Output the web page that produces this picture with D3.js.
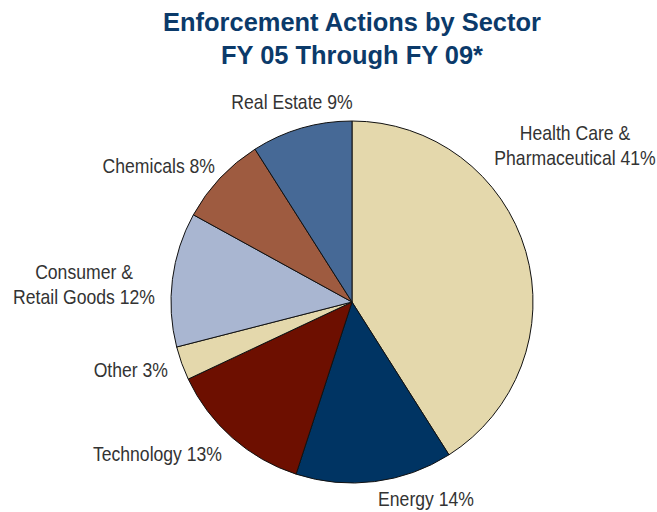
<!DOCTYPE html>
<html lang="en">
<head>
<meta charset="UTF-8">
<title>Enforcement Actions by Sector</title>
<script src="https://d3js.org/d3.v7.min.js"></script>
<style>
    body { margin: 0; background: #fff; }
    svg text { font-family: 'Liberation Sans', Arial, sans-serif; }
</style>
</head>
<body>
<div id="chart"></div>
<script>
    // Sectors, clockwise from 12 o'clock
    const sectors = ["Health Care & Pharmaceutical", "Energy", "Technology", "Other",
                     "Consumer & Retail Goods", "Chemicals", "Real Estate"];
    const shares = [41, 14, 13, 3, 12, 8, 9];
    const colors = ["#e4d8ac", "#003463", "#6d0f00", "#e4d8ac", "#a9b6d1", "#9e5b40", "#466996"];
    // label lines as printed
    const labelLines = [
        ["Health Care &", "Pharmaceutical 41%"],
        ["Energy 14%"],
        ["Technology 13%"],
        ["Other 3%"],
        ["Consumer &", "Retail Goods 12%"],
        ["Chemicals 8%"],
        ["Real Estate 9%"]
    ];

    const width = 657, height = 512;
    const cx = 352, cy = 302, radius = 181;

    const svg = d3.select("#chart").append("svg")
        .attr("width", width).attr("height", height);

    // title (the original uses a slightly condensed face)
    const title = svg.append("g")
        .attr("transform", `translate(352,0) scale(0.96,1)`)
        .append("text")
        .attr("text-anchor", "middle")
        .attr("fill", "#0b3a6a")
        .style("font-weight", "bold")
        .style("font-size", "26.5px");
    title.append("tspan").attr("x", 0).attr("y", 31).text("Enforcement Actions by Sector");
    title.append("tspan").attr("x", 0).attr("y", 64).text("FY 05 Through FY 09*");

    const data = sectors.map((s, i) => ({ sector: s, share: shares[i], color: colors[i], lines: labelLines[i] }));

    const pie = d3.pie().value(d => d.share).sort(null);
    const arc = d3.arc().innerRadius(0).outerRadius(radius);
    const arcs = pie(data);

    const g = svg.append("g").attr("transform", `translate(${cx},${cy})`);

    g.selectAll("path")
        .data(arcs)
        .join("path")
        .attr("d", arc)
        .attr("fill", d => d.data.color)
        .attr("stroke", "#111")
        .attr("stroke-width", 1);

    // hand-placed label anchors (relative to pie centre)
    const labelLayout = {
        "Health Care & Pharmaceutical": { x: 223, y: -162, anchor: "middle" },
        "Energy": { x: 74, y: 204, anchor: "middle" },
        "Technology": { x: -130, y: 159, anchor: "end" },
        "Other": { x: -184, y: 75, anchor: "end" },
        "Consumer & Retail Goods": { x: -268, y: -23, anchor: "middle" },
        "Chemicals": { x: -137, y: -129, anchor: "end" },
        "Real Estate": { x: -60, y: -193, anchor: "middle" }
    };

    const labels = g.selectAll("g.lbl")
        .data(arcs)
        .join("g")
        .attr("class", "lbl")
        .attr("transform", d => {
            const p = labelLayout[d.data.sector];
            return `translate(${p.x},${p.y}) scale(0.88,1)`;
        })
        .append("text")
        .attr("fill", "#333")
        .style("font-size", "20px")
        .attr("text-anchor", d => labelLayout[d.data.sector].anchor);

    labels.selectAll("tspan")
        .data(d => d.data.lines)
        .join("tspan")
        .attr("x", 0)
        .attr("y", (l, i) => i * 25)
        .text(l => l);
</script>
</body>
</html>
